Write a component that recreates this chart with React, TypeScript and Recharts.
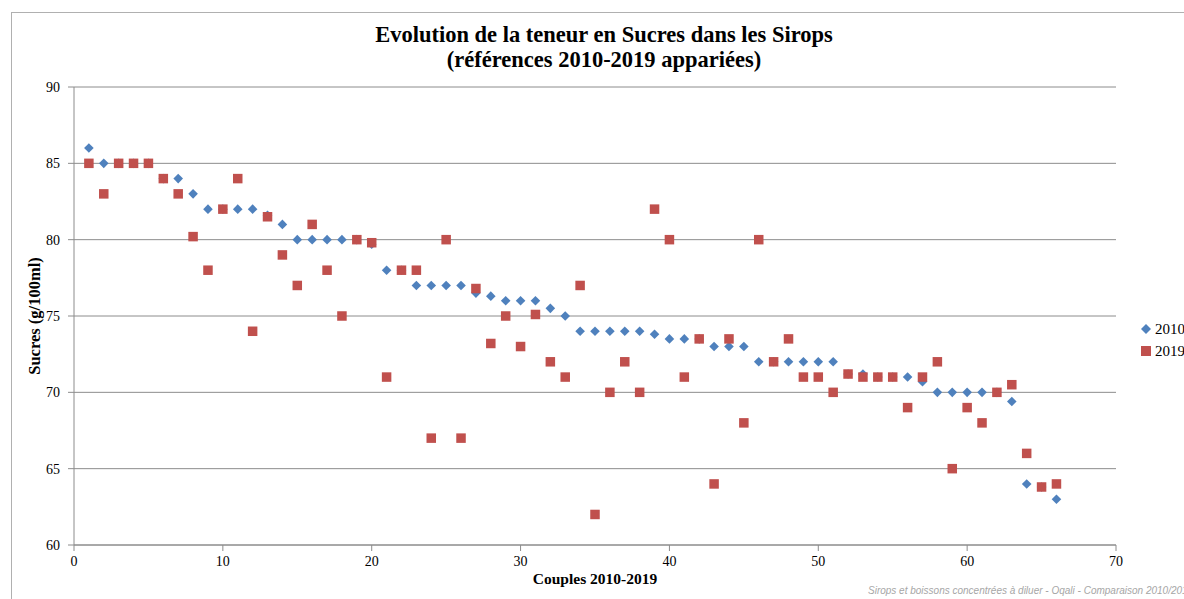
import { ScatterChart, Scatter, XAxis, YAxis, CartesianGrid } from "recharts";

const couples = [
  1, 2, 3, 4, 5, 6, 7, 8, 9, 10, 11, 12, 13, 14, 15, 16, 17, 18, 19, 20, 21, 22,
  23, 24, 25, 26, 27, 28, 29, 30, 31, 32, 33, 34, 35, 36, 37, 38, 39, 40, 41, 42,
  43, 44, 45, 46, 47, 48, 49, 50, 51, 52, 53, 54, 55, 56, 57, 58, 59, 60, 61, 62,
  63, 64, 65, 66,
];

const sucres2010 = [
  86, 85, 85, 85, 85, 84, 84, 83, 82, 82, 82, 82, 81.6, 81, 80, 80, 80, 80, 80, 79.7, 78, 78,
  77, 77, 77, 77, 76.5, 76.3, 76, 76, 76, 75.5, 75, 74, 74, 74, 74, 74, 73.8, 73.5, 73.5, 73.5,
  73, 73, 73, 72, 72, 72, 72, 72, 72, 71.2, 71.2, 71, 71, 71, 70.7, 70, 70, 70, 70, 70,
  69.4, 64, 63.8, 63,
];

const sucres2019 = [
  85, 83, 85, 85, 85, 84, 83, 80.2, 78, 82, 84, 74, 81.5, 79, 77, 81, 78, 75, 80, 79.8, 71, 78,
  78, 67, 80, 67, 76.8, 73.2, 75, 73, 75.1, 72, 71, 77, 62, 70, 72, 70, 82, 80, 71, 73.5,
  64, 73.5, 68, 80, 72, 73.5, 71, 71, 70, 71.2, 71, 71, 71, 69, 71, 72, 65, 69, 68, 70,
  70.5, 66, 63.8, 64,
];

const xTicks = [0, 10, 20, 30, 40, 50, 60, 70];
const yTicks = [60, 65, 70, 75, 80, 85, 90];

const BLUE = "#4F81BD";
const RED = "#C0504D";
const FONT = "'Liberation Serif', serif";

const data2010 = couples.map((c, i) => ({ x: c, y: sucres2010[i] }));
const data2019 = couples.map((c, i) => ({ x: c, y: sucres2019[i] }));

const Diamond = (props: any) => {
  const { cx, cy } = props;
  const r = 4.8;
  return (
    <path
      d={`M${cx},${cy - r}L${cx + r},${cy}L${cx},${cy + r}L${cx - r},${cy}Z`}
      fill={BLUE}
    />
  );
};

const Square = (props: any) => {
  const { cx, cy } = props;
  const s = 9.5;
  return <rect x={cx - s / 2} y={cy - s / 2} width={s} height={s} fill={RED} />;
};

export default function App() {
  return (
    <div
      style={{
        position: "absolute",
        left: 0,
        top: 0,
        width: 1184,
        height: 599,
        overflow: "hidden",
        background: "#fff",
        fontFamily: FONT,
      }}
    >
      <div
        style={{
          position: "absolute",
          left: 11,
          top: 12,
          width: 1184,
          height: 600,
          borderTop: "1px solid #b0b0b0",
          borderLeft: "1px solid #b0b0b0",
        }}
      />
      <div
        style={{
          position: "absolute",
          left: 0,
          top: 22,
          width: 1208,
          textAlign: "center",
          fontWeight: "bold",
          fontSize: 22.5,
          lineHeight: "25px",
          color: "#000",
        }}
      >
        Evolution de la teneur en Sucres dans les Sirops
        <br />
        (références 2010-2019 appariées)
      </div>
      <ScatterChart
        width={1184}
        height={599}
        margin={{ top: 87, right: 68, bottom: 24, left: 34 }}
        style={{ position: "absolute", left: 0, top: 0 }}
      >
        <CartesianGrid horizontal vertical={false} stroke="#8c8c8c" strokeWidth={1} />
        <XAxis
          type="number"
          dataKey="x"
          domain={[0, 70]}
          ticks={xTicks}
          height={30}
          axisLine={{ stroke: "#8c8c8c" }}
          tickLine={{ stroke: "#8c8c8c" }}
          tickSize={6}
          tickMargin={5}
          tick={{ fill: "#000", fontSize: 14, fontFamily: FONT }}
          label={{
            value: "Couples 2010-2019",
            position: "bottom",
            offset: -2,
            style: { fontWeight: "bold", fontSize: 15.5, fill: "#000", fontFamily: FONT },
          }}
        />
        <YAxis
          type="number"
          dataKey="y"
          domain={[60, 90]}
          ticks={yTicks}
          width={40}
          axisLine={{ stroke: "#8c8c8c" }}
          tickLine={{ stroke: "#8c8c8c" }}
          tickSize={6}
          tickMargin={8}
          tick={{ fill: "#000", fontSize: 14, fontFamily: FONT }}
          label={{
            value: "Sucres (g/100ml)",
            angle: -90,
            position: "insideLeft",
            offset: 0,
            style: { textAnchor: "middle", fontWeight: "bold", fontSize: 16.5, fill: "#000", fontFamily: FONT },
          }}
        />
        <Scatter name="2010" data={data2010} shape={Diamond} isAnimationActive={false} />
        <Scatter name="2019" data={data2019} shape={Square} isAnimationActive={false} />
      </ScatterChart>
      <div style={{ position: "absolute", left: 1140, top: 318, fontSize: 15, lineHeight: "22px" }}>
        <div style={{ display: "flex", alignItems: "center" }}>
          <svg width={12} height={12} style={{ marginRight: 3 }}>
            <path d="M6,1L11,6L6,11L1,6Z" fill={BLUE} />
          </svg>
          2010
        </div>
        <div style={{ display: "flex", alignItems: "center" }}>
          <svg width={12} height={12} style={{ marginRight: 3 }}>
            <rect x={1} y={1} width={10} height={10} fill={RED} />
          </svg>
          2019
        </div>
      </div>
      <div
        style={{
          position: "absolute",
          left: 868,
          top: 585,
          whiteSpace: "nowrap",
          fontStyle: "italic",
          fontSize: 10,
          color: "#a6a6a6",
          fontFamily: "'Liberation Sans', sans-serif",
        }}
      >
        Sirops et boissons concentrées à diluer - Oqali - Comparaison 2010/2019
      </div>
    </div>
  );
}
